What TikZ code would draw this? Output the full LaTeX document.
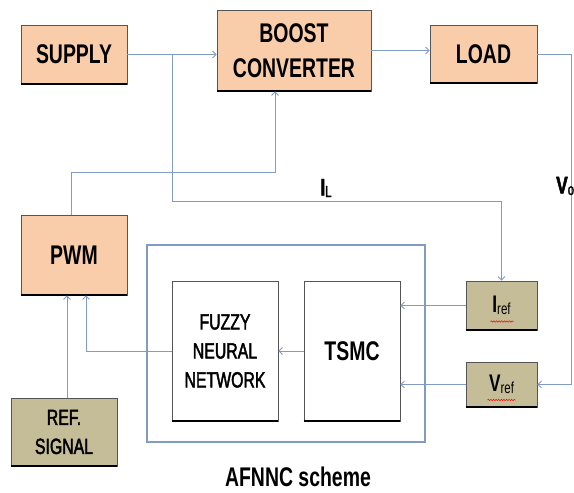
\documentclass[tikz,border=0pt]{standalone}
\usepackage{fontspec}
\setmainfont{Liberation Sans}
\newfontfamily\narrow[FakeStretch=0.72]{Liberation Sans}
\newfontfamily\narrowmed[FakeStretch=0.72, FakeBold=2]{Liberation Sans}
\usetikzlibrary{arrows.meta, calc, decorations.pathmorphing}

\definecolor{peach}{RGB}{249,204,170}
\definecolor{khaki}{RGB}{196,189,151}
\definecolor{wire}{RGB}{128,156,196}
\definecolor{edgegray}{RGB}{85,85,85}

\tikzset{
  block/.style={draw=edgegray, line width=0.7pt, inner sep=0pt, align=center,
    font={\narrow\bfseries\fontsize{27}{35}\selectfont}},
  thinblock/.style={block, font={\narrowmed\fontsize{22}{29}\selectfont}},
  wave/.style={red, line width=0.5pt, decorate, decoration={snake, amplitude=0.7pt, segment length=2.6pt}}
}

\newcommand{\sig}[2]{{\bfseries #1}{\fontsize{16}{16}\mdseries\selectfont\raisebox{-1.5pt}{#2}}}

\begin{document}
\begin{tikzpicture}[x=1pt, y=-1pt]
\useasboundingbox (0,0) rectangle (574,493);

\node[draw=wire, line width=1.3pt, minimum width=278, minimum height=197] (afnnc) at (286,343.5) {};

\path[every node/.style={block}]
(74,54.5) node[fill=peach, minimum width=106, minimum height=59] (supply) {SUPPLY}
(294,50.5) node[fill=peach, minimum width=154, minimum height=81] (boost) {BOOST\\CONVERTER}
(483.5,54) node[fill=peach, minimum width=107, minimum height=58] (load) {LOAD}
(74,255) node[fill=peach, minimum width=106, minimum height=80] (pwm) {PWM}
(64,432) node[thinblock, fill=khaki, minimum width=106, minimum height=68] (refsig) {REF.\\SIGNAL}
(225,351) node[thinblock, fill=white, minimum width=106, minimum height=140] (fnn) {FUZZY\\NEURAL\\NETWORK}
(352,351) node[fill=white, minimum width=96, minimum height=140] (tsmc) {TSMC}
(501.5,305.5) node[fill=khaki, minimum width=71, minimum height=49, font={\narrow\fontsize{24}{24}\selectfont}] (iref) {\sig{I}{ref}}
(501.5,384.5) node[fill=khaki, minimum width=71, minimum height=45, font={\narrow\fontsize{24}{24}\selectfont}] (vref) {\sig{V}{ref}}
;

% heavy bottom edge of every box
\foreach \n in {supply, boost, load, pwm, refsig, fnn, tsmc, iref, vref}
  \draw[line width=1.8pt] (\n.south west) -- (\n.south east);

\draw[wave] ($(iref.center)+(-11,16)$) -- ($(iref.center)+(12,16)$);
\draw[wave] ($(vref.center)+(-14,15.5)$) -- ($(vref.center)+(14,15.5)$);

\path (supply.east) +(45,0) coordinate (br);

\begin{scope}[draw=wire, line width=0.9pt, -{Straight Barb[length=3.5pt, width=7pt]}]
\draw (supply.east) -- (supply.east -| boost.west);
\draw (boost.east) -- (boost.east -| load.west);
\draw (br) -- ++(0,147) -| (iref.north);
\draw (load.east) -- ++(34,0) |- (vref.east);
\draw ([xshift=-3pt]pwm.north) -- ++(0,-42) -| ([xshift=-19pt]boost.south);
\draw ([xshift=3pt]refsig.north) -- ([xshift=3pt]refsig.north |- pwm.south);
\draw (fnn.west) -| ([xshift=12pt]pwm.south);
\draw (tsmc.west) -- (fnn.east);
\draw (iref.west) -- (iref.west -| tsmc.east);
\draw (vref.west) -- (vref.west -| tsmc.east);
\end{scope}

\node[font={\narrowmed\fontsize{24}{24}\selectfont}] (il) at (326,188) {\sig{I}{L}};
\node[font={\narrowmed\fontsize{24}{24}\selectfont}, anchor=west, inner sep=0pt] (vo) at (556,186) {\sig{V}{o}};
\node[font={\narrow\bfseries\fontsize{27}{27}\selectfont}] (title) at (298,477) {AFNNC scheme};

\end{tikzpicture}
\end{document}
